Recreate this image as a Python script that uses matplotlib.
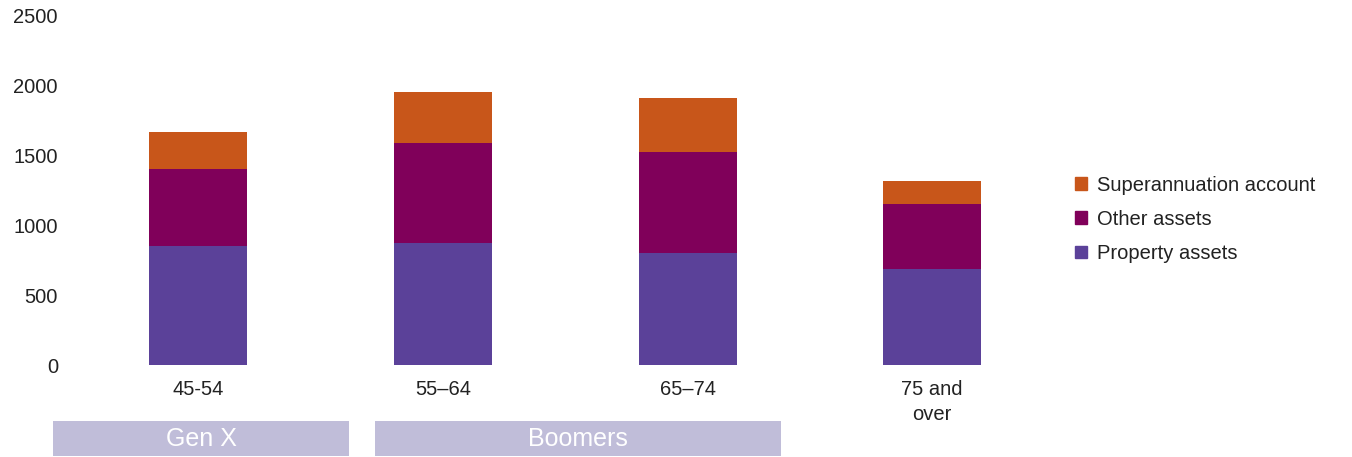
import matplotlib

matplotlib.use("Agg")
import matplotlib.pyplot as plt
import numpy as np
from matplotlib.patches import Rectangle, Patch

plt.rcParams["font.family"] = ["Liberation Sans", "DejaVu Sans"]

# data
age_groups = ["45-54", "55\u201364", "65\u201374", "75 and\nover"]
property_assets = [850, 877, 805, 685]
other_assets = [555, 713, 721, 470]
super_account = [267, 368, 386, 160]
series_names = ["Property assets", "Other assets", "Superannuation account"]
colours = ["#5B4199", "#80005A", "#C8561A"]

# generation bands below the axis: (label, left, right) in bar units
generations = [("Gen X", -0.594, 0.618), ("Boomers", 0.724, 2.38)]
band_colour = "#C0BDD9"

fig = plt.figure(figsize=(13.52, 4.57), dpi=100)
ax = fig.add_axes([0.0562, 0.2013, 0.7238, 0.7637])

x = np.arange(len(age_groups))
bottom = np.zeros(len(x))
for vals, name, col in zip([property_assets, other_assets, super_account],
                           series_names, colours):
    ax.bar(x, vals, width=0.4, bottom=bottom, color=col, label=name)
    bottom += np.array(vals)

ax.set_xlim(-0.5, 3.5)
ax.set_ylim(0, 2500)
ax.set_yticks(range(0, 2501, 500))
ax.set_xticks(x)
ax.set_xticklabels(age_groups, linespacing=1.45)
ax.tick_params(length=0, labelsize=14.5, colors="#222222")
ax.tick_params(axis="y", pad=13)
ax.tick_params(axis="x", pad=10.5)
for s in ax.spines.values():
    s.set_visible(False)

# generation bands
trans = ax.get_xaxis_transform()
for label, left, right in generations:
    ax.add_patch(Rectangle((left, -0.262), right - left, 0.102, transform=trans,
                           color=band_colour, clip_on=False, lw=0))
    ax.text((left + right) / 2, -0.213, label, transform=trans, ha="center",
            va="center", color="white", fontsize=18)

handles = [Patch(color=c, label=n) for c, n in zip(colours, series_names)][::-1]
fig.legend(handles=handles, loc="upper left", bbox_to_anchor=(0.782, 0.655),
           frameon=False, fontsize=14.5, handlelength=0.6, handleheight=0.6,
           handletextpad=0.45, labelspacing=0.75, labelcolor="#222222")

fig.savefig("out.png", dpi=100)
